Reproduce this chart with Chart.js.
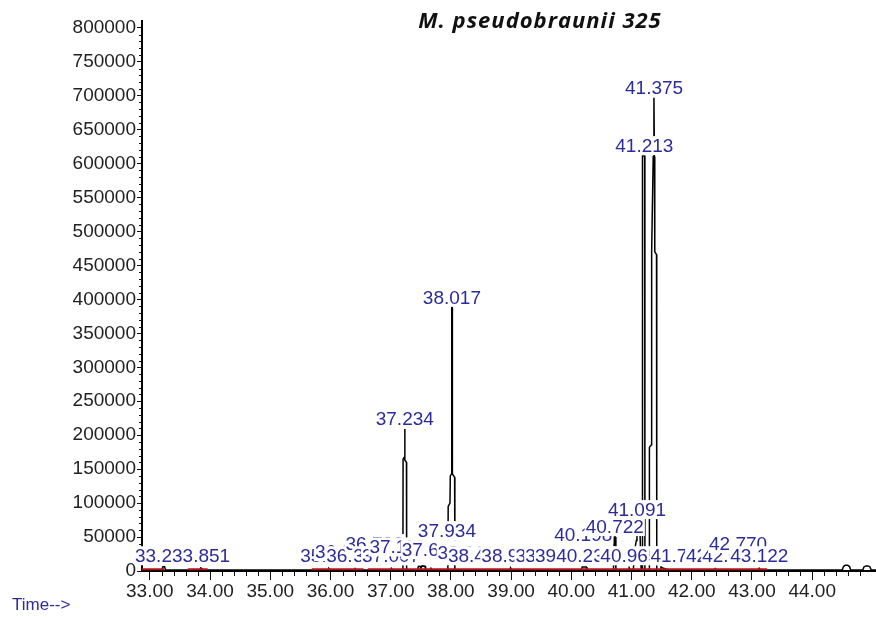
<!DOCTYPE html>
<html>
<head>
<meta charset="utf-8">
<title>M. pseudobraunii 325</title>
<script src="https://cdn.jsdelivr.net/npm/chart.js@4.4.1/dist/chart.umd.min.js"></script>
<style>
  html, body { margin: 0; padding: 0; background: #fff; }
  #wrap { width: 876px; height: 618px; }
</style>
</head>
<body>
<div id="wrap"><canvas id="tic" width="876" height="618"></canvas></div>
<script>
const sampleName = 'M. pseudobraunii 325';

// time window (min) and abundance range
const timeMin  = 32.87;
const timeMax  = 45.06;
const abundMax = 810000;

const xTickLabels = ['33.00','34.00','35.00','36.00','37.00','38.00','39.00','40.00','41.00','42.00','43.00','44.00'];
const yTickLabels = ['0','50000','100000','150000','200000','250000','300000','350000','400000',
                     '450000','500000','550000','600000','650000','700000','750000','800000'];

// TIC trace: [retention time, abundance]
const signal = [
    [32.87, 1500],
    [33.200, 1500], [33.215, 6000], [33.245, 6500], [33.260, 1500],
    [33.830, 1500], [33.845, 4500], [33.860, 4000], [33.870, 1500],
    [35.960, 1500], [35.975, 3500], [35.990, 1500],
    [36.400, 1500], [36.410, 3500], [36.430, 1500],
    [37.000, 1500], [37.010, 4000], [37.030, 1500],
    [37.203, 1500], [37.206, 165000], [37.231, 168000], [37.234, 209000], [37.237, 163000], [37.262, 160000], [37.265, 1500],
    [37.450, 1500], [37.460, 7000], [37.490, 7000], [37.500, 3500], [37.520, 7500], [37.570, 7000], [37.580, 1500],
    [37.660, 1500], [37.670, 4000], [37.690, 1500],
    [37.950, 1500], [37.955, 95000], [37.985, 100000], [37.990, 140000], [38.010, 143000],
    [38.014, 388000], [38.021, 388000], [38.025, 143000], [38.062, 138000], [38.066, 1500],
    [38.980, 1500], [38.990, 4500], [39.010, 1500],
    [40.170, 1500], [40.180, 6000], [40.250, 6000], [40.260, 1500],
    [40.700, 1500], [40.712, 50000], [40.730, 50000], [40.740, 1500],
    [40.950, 1500], [40.960, 5000], [40.980, 1500],
    [41.030, 1500], [41.050, 30000], [41.080, 45000], [41.090, 68000], [41.100, 55000],
    [41.120, 60000], [41.140, 58000], [41.160, 1500],
    [41.178, 1500], [41.182, 611000], [41.218, 611000], [41.222, 1500],
    [41.293, 1500], [41.297, 182000], [41.330, 186000], [41.334, 470000], [41.360, 610000],
    [41.372, 697000], [41.380, 610000], [41.386, 470000], [41.415, 466000], [41.419, 1500],
    [41.480, 1500], [41.490, 6000], [41.530, 4000], [41.580, 2500], [41.620, 1500],
    [42.380, 1500], [42.390, 3500], [42.410, 1500],
    [43.110, 1500], [43.120, 4000], [43.140, 1500],
    [44.500, 1500], [44.520, 6500], [44.550, 8500], [44.590, 8500], [44.620, 6500], [44.640, 1500],
    [44.840, 1500], [44.860, 6000], [44.890, 7500], [44.930, 7500], [44.960, 6000], [44.980, 1500],
    [45.06, 1500]
];

// integration baselines, drawn in red
const baselineRuns  = [[32.87, 33.24], [33.63, 33.96], [35.69, 36.55], [36.62, 43.25]];
const baselineLevel = 2500;

// integrated peaks: retention time and the abundance the label sits on
const peakTimes = ['33.236','33.851','35.981','36.224','36.412','36.733','36.861','37.007','37.118','37.234',
                   '37.666','37.934','38.017','38.262','38.433','38.988','39.554','39.717','39.879','40.198',
                   '40.231','40.722','40.965','41.091','41.213','41.375','41.796','42.388','42.655','42.770','43.122'];
const labelLevels = [7000, 7000, 7000, 13000, 7000, 25000, 7000, 7000, 20000, 209000,
                     16000, 44000, 388000, 12000, 7000, 7000, 7000, 7000, 7000, 38000,
                     7000, 50000, 7000, 75000, 611000, 697000, 7000, 7000, 7000, 25000, 7000];

const FONT = '"Liberation Sans", Arial, sans-serif';
const LABEL_BLUE = '#2b2b9c';

const baselinePoints = [];
baselineRuns.forEach(([a, b]) => {
    baselinePoints.push({ x: a, y: baselineLevel }, { x: b, y: baselineLevel }, { x: b, y: null });
});

// minor ticks, peak labels, title and the time caption
const chromPlugin = {
    id: 'chrom',
    afterDatasetsDraw(chart) {
        const { ctx, chartArea, scales: { x, y } } = chart;
        ctx.save();

        ctx.strokeStyle = '#111';
        ctx.lineWidth = 1;
        ctx.beginPath();
        for (let i = 0; i <= 60; i++) {
            const t = 33 + i * 0.2;
            if (i % 5 === 0 || t > timeMax) continue;
            const px = Math.round(x.getPixelForValue(t)) + 0.5;
            ctx.moveTo(px, chartArea.bottom);
            ctx.lineTo(px, chartArea.bottom + 5);
        }
        for (let v = 10000; v < 800000; v += 10000) {
            if (v % 50000 === 0) continue;
            const py = Math.round(y.getPixelForValue(v)) + 0.5;
            ctx.moveTo(chartArea.left, py);
            ctx.lineTo(chartArea.left - 3, py);
        }
        ctx.stroke();

        // peak labels sit on an opaque box, later ones cover earlier ones
        ctx.font = '19px ' + FONT;
        ctx.textAlign = 'center';
        ctx.textBaseline = 'alphabetic';
        peakTimes.forEach((t, i) => {
            const px = x.getPixelForValue(parseFloat(t));
            const base = y.getPixelForValue(labelLevels[i]) - 4;
            const w = ctx.measureText(t).width;
            ctx.fillStyle = '#fff';
            ctx.fillRect(px - w / 2 - 1, base - 16, w + 2, 19);
            ctx.fillStyle = LABEL_BLUE;
            ctx.fillText(t, px, base);
        });

        ctx.fillStyle = '#111';
        ctx.font = 'italic bold 22px "Open Sans", sans-serif';
        ctx.letterSpacing = '1px';
        ctx.fillText(sampleName, 540, 28);
        ctx.letterSpacing = '0px';

        ctx.textAlign = 'left';
        ctx.fillStyle = LABEL_BLUE;
        ctx.font = '17px ' + FONT;
        ctx.fillText('Time-->', 12, 610);
        ctx.restore();
    }
};

new Chart(document.getElementById('tic'), {
    type: 'line',
    data: {
        datasets: [
            { data: baselinePoints, borderColor: '#b3161b', borderWidth: 2, pointRadius: 0, spanGaps: false, order: 0 },
            { data: signal.map(([t, a]) => ({ x: t, y: a })), borderColor: '#000', borderWidth: 1.5, pointRadius: 0, tension: 0, order: 1 }
        ]
    },
    options: {
        responsive: false,
        animation: false,
        events: [],
        layout: { padding: { top: 21, right: 0, left: 0, bottom: 0 } },
        plugins: { legend: { display: false }, tooltip: { enabled: false } },
        scales: {
            x: {
                type: 'linear',
                min: timeMin,
                max: timeMax,
                afterBuildTicks: s => { s.ticks = xTickLabels.map(v => ({ value: parseFloat(v) })); },
                afterFit: s => { s.height = 47; },
                border: { color: '#000', width: 2 },
                grid: { drawOnChartArea: false, tickLength: 9, tickColor: '#111', tickWidth: 1 },
                ticks: {
                    callback: v => Number(v).toFixed(2),
                    autoSkip: false, maxRotation: 0, padding: 0,
                    color: '#222', font: { family: FONT, size: 19 }
                }
            },
            y: {
                min: 0,
                max: abundMax,
                afterBuildTicks: s => { s.ticks = yTickLabels.map(v => ({ value: Number(v) })); },
                afterFit: s => { s.width = 142; },
                border: { color: '#000', width: 2 },
                grid: { drawOnChartArea: false, tickLength: 5, tickColor: '#111', tickWidth: 1 },
                ticks: {
                    callback: v => String(v),
                    autoSkip: false, padding: 1,
                    color: '#222', font: { family: FONT, size: 19 }
                }
            }
        }
    },
    plugins: [chromPlugin]
});
</script>
</body>
</html>
